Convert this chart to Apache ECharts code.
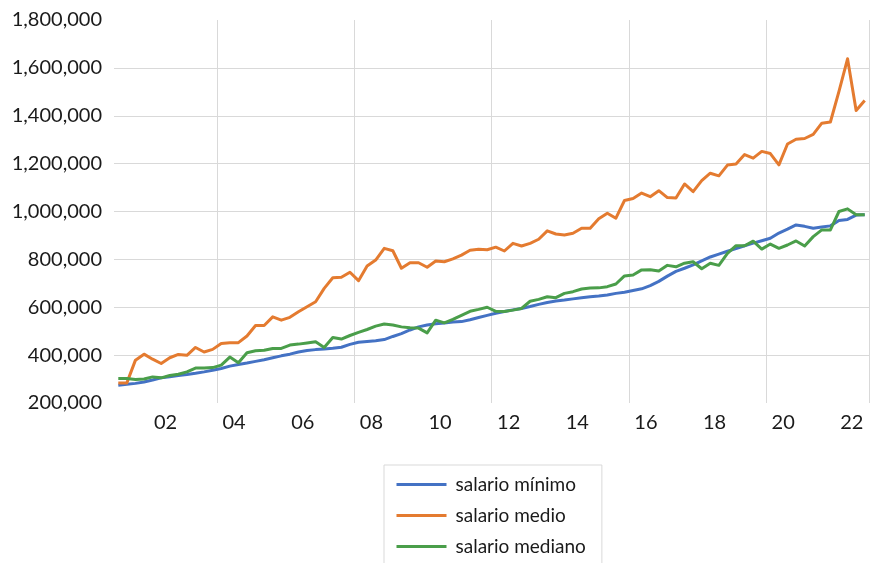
<!DOCTYPE html>
<html>
<head>
<meta charset="utf-8">
<title>salarios</title>
<script src="https://cdn.jsdelivr.net/npm/echarts@6/dist/echarts.min.js"></script>
<style>
	html, body { margin: 0; padding: 0; background: #fff; }
	#chart { width: 872px; height: 563px; }
</style>
</head>
<body>
<div id="chart"></div>
<script>
// trimestres 2001T1 .. 2022T4
var firstYear = 2001;
var lastYear = 2022;
var quarters = [];
for (var y = firstYear; y <= lastYear; y++) {
	for (var q = 1; q <= 4; q++) {
		quarters.push(y + 'T' + q);
	}
}

// etiquetas del eje x (centradas en cada año par)
var tickYears = [2002, 2004, 2006, 2008, 2010, 2012, 2014, 2016, 2018, 2020, 2022];
var tickLabels = ['02', '04', '06', '08', '10', '12', '14', '16', '18', '20', '22'];

var seriesNames = ['salario mínimo', 'salario medio', 'salario mediano'];

var salarioMinimo = [
	274000, 278000, 282000, 288000, 296000, 305000, 310000, 315000, 319000, 324000,
	330000, 337000, 344000, 354000, 361000, 367000, 374000, 381000, 389000, 397000,
	404000, 413000, 419000, 423000, 426000, 429000, 433000, 445000, 454000, 457000,
	460000, 465000, 478000, 490000, 505000, 518000, 526000, 531000, 534000, 538000,
	540000, 548000, 557000, 566000, 575000, 582000, 589000, 595000, 603000, 612000,
	620000, 626000, 630000, 635000, 640000, 644000, 647000, 651000, 658000, 663000,
	670000, 677000, 690000, 708000, 730000, 750000, 763000, 777000, 794000, 810000,
	822000, 834000, 845000, 857000, 868000, 878000, 888000, 910000, 926000, 944000,
	938000, 930000, 935000, 940000, 962000, 967000, 985000, 986000
];

var salarioMedio = [
	284000, 284000, 379000, 404000, 383000, 365000, 389000, 403000, 399000, 432000,
	413000, 424000, 449000, 452000, 452000, 480000, 524000, 524000, 560000, 546000,
	558000, 581000, 602000, 623000, 679000, 723000, 725000, 746000, 711000, 772000,
	797000, 846000, 836000, 763000, 786000, 786000, 767000, 793000, 790000, 802000,
	818000, 838000, 842000, 840000, 851000, 835000, 867000, 856000, 867000, 884000,
	919000, 906000, 902000, 909000, 930000, 930000, 970000, 993000, 972000, 1046000,
	1054000, 1077000, 1062000, 1087000, 1058000, 1056000, 1115000, 1083000, 1129000, 1160000,
	1149000, 1194000, 1198000, 1238000, 1223000, 1251000, 1242000, 1195000, 1282000, 1302000,
	1305000, 1322000, 1369000, 1374000, 1502000, 1638000, 1422000, 1464000
];

var salarioMediano = [
	302000, 302000, 298000, 300000, 309000, 305000, 315000, 320000, 330000, 346000,
	346000, 348000, 358000, 392000, 368000, 410000, 418000, 420000, 428000, 428000,
	442000, 446000, 451000, 456000, 432000, 474000, 467000, 482000, 495000, 507000,
	521000, 530000, 526000, 518000, 514000, 513000, 493000, 546000, 535000, 549000,
	566000, 583000, 591000, 600000, 583000, 582000, 588000, 595000, 625000, 633000,
	644000, 640000, 658000, 665000, 676000, 680000, 681000, 686000, 697000, 731000,
	735000, 756000, 757000, 751000, 775000, 769000, 784000, 790000, 761000, 784000,
	775000, 825000, 857000, 857000, 876000, 843000, 864000, 846000, 860000, 877000,
	856000, 895000, 923000, 923000, 1000000, 1011000, 986000, 986000
];

var colors = ['#4472C4', '#E47B30', '#4A9E4A'];
var fontName = 'Lato, "Open Sans", sans-serif';

var myChart = echarts.init(document.getElementById('chart'), null, { renderer: 'canvas' });

function lineSeries(name, data, color) {
	return {
		name: name,
		type: 'line',
		xAxisIndex: 0,
		data: data,
		symbol: 'none',
		smooth: false,
		lineStyle: { width: 3, color: color, join: 'round' },
		itemStyle: { color: color }
	};
}

var option = {
	animation: false,
	color: colors,
	grid: { left: 114, right: 1, top: 20, bottom: 160 },
	xAxis: [{
		type: 'category',
		data: quarters,
		boundaryGap: true,
		position: 'bottom',
		axisLine: { show: false },
		axisTick: { show: false },
		axisLabel: { show: false },
		splitLine: {
			show: true,
			// una línea vertical al inicio de 2004, 2008, 2012 ...
			interval: function (idx, val) {
				var yr = parseInt(val, 10);
				return /T1$/.test(val) && yr % 4 === 0;
			},
			lineStyle: { color: '#d9d9d9', width: 1 }
		}
	}, {
		type: 'value',
		min: firstYear,
		max: lastYear + 1,
		interval: 0.5,
		position: 'bottom',
		axisLine: { show: false },
		axisTick: { show: false },
		splitLine: { show: false },
		axisLabel: {
			margin: 10,
			fontFamily: fontName,
			fontSize: 20,
			color: '#1a1a1a',
			formatter: function (v) {
				for (var i = 0; i < tickYears.length; i++) {
					if (Math.abs(v - (tickYears[i] + 0.5)) < 1e-6) return tickLabels[i];
				}
				return '';
			}
		}
	}],
	yAxis: {
		type: 'value',
		min: 200000,
		max: 1800000,
		interval: 200000,
		axisLine: { show: false },
		axisTick: { show: false },
		axisLabel: {
			margin: 12,
			fontFamily: fontName,
			fontSize: 20,
			color: '#1a1a1a',
			formatter: function (v) {
				return v.toLocaleString('en-US');
			}
		},
		splitLine: {
			show: true,
			showMinLine: false,
			showMaxLine: false,
			lineStyle: { color: '#d9d9d9', width: 1 }
		}
	},
	legend: {
		orient: 'vertical',
		left: 384,
		top: 465,
		height: 140,
		padding: [10, 16, 13, 11],
		itemWidth: 50,
		itemHeight: 14,
		itemGap: 12,
		borderColor: '#d9d9d9',
		borderWidth: 1,
		data: seriesNames,
		itemStyle: { opacity: 0 },
		lineStyle: { width: 3 },
		textStyle: {
			fontFamily: fontName,
			fontSize: 19,
			color: '#1a1a1a',
			padding: [0, 0, 0, 4]
		}
	},
	series: [
		lineSeries(seriesNames[0], salarioMinimo, colors[0]),
		lineSeries(seriesNames[1], salarioMedio, colors[1]),
		lineSeries(seriesNames[2], salarioMediano, colors[2])
	]
};

myChart.setOption(option);
</script>
</body>
</html>
